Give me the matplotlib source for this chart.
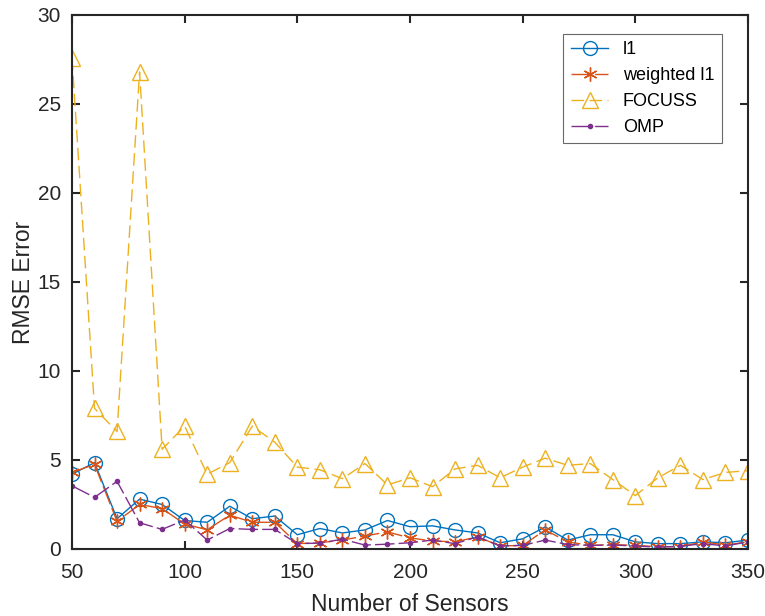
import matplotlib.pyplot as plt

plt.rcParams['font.family'] = ['Liberation Sans', 'DejaVu Sans']

# Data
sensors = list(range(50, 351, 10))

l1 = [4.2, 4.85, 1.7, 2.8, 2.5, 1.6, 1.5, 2.4, 1.7, 1.85,
      0.8, 1.15, 0.9, 1.07, 1.6, 1.25, 1.3, 1.07, 0.9, 0.35,
      0.57, 1.24, 0.5, 0.8, 0.8, 0.4, 0.3, 0.3, 0.4, 0.35, 0.5]

weighted_l1 = [4.3, 4.75, 1.55, 2.5, 2.27, 1.4, 1.08, 1.9, 1.5, 1.5,
               0.3, 0.35, 0.5, 0.73, 0.96, 0.62, 0.45, 0.4, 0.68, 0.17,
               0.2, 1.07, 0.4, 0.2, 0.25, 0.2, 0.13, 0.13, 0.4, 0.22, 0.4]

focuss = [27.6, 7.9, 6.6, 26.8, 5.6, 6.9, 4.2, 4.85, 6.9, 6.0,
          4.6, 4.45, 3.95, 4.8, 3.6, 4.0, 3.5, 4.5, 4.7, 4.0,
          4.6, 5.1, 4.7, 4.8, 3.9, 3.0, 4.0, 4.7, 3.9, 4.3, 4.4]

omp = [3.55, 2.9, 3.8, 1.47, 1.1, 1.63, 0.5, 1.15, 1.1, 1.1,
       0.3, 0.33, 0.55, 0.22, 0.27, 0.35, 0.5, 0.3, 0.68, 0.17,
       0.2, 0.5, 0.25, 0.2, 0.22, 0.17, 0.1, 0.15, 0.3, 0.17, 0.4]

fig = plt.figure(figsize=(7.65, 6.16), dpi=100)
ax = fig.add_axes([0.0941, 0.1088, 0.8837, 0.8669])

ax.plot(sensors, l1, color='#0072BD', lw=1, marker='o', ms=10,
        mfc='none', label='l1')
ax.plot(sensors, weighted_l1, color='#D95319', lw=1, ls=(0, (14, 3)),
        marker=(6, 2, 0), ms=10, label='weighted l1')
ax.plot(sensors, focuss, color='#EDB120', lw=1, ls=(0, (9, 4)),
        marker='^', ms=12, mfc='none', label='FOCUSS')
ax.plot(sensors, omp, color='#7E2F8E', lw=1, ls=(0, (14, 3)),
        marker='.', ms=6, label='OMP')

ax.set_xlim(50, 350)
ax.set_ylim(0, 30)
ax.set_xticks([50, 100, 150, 200, 250, 300, 350])
ax.set_yticks([0, 5, 10, 15, 20, 25, 30])
ax.tick_params(direction='in', labelsize=15, length=6, width=1.5, top=True, right=True,
               colors='#262626')
ax.tick_params(axis='x', pad=10)
ax.tick_params(axis='y', pad=8)
for s in ax.spines.values():
    s.set_linewidth(1.5)
    s.set_color('#262626')

ax.set_xlabel('Number of Sensors', fontsize=16.5, color='#262626', labelpad=8)
ax.set_ylabel('RMSE Error', fontsize=16.5, color='#262626', labelpad=2)

leg = ax.legend(loc='upper right', bbox_to_anchor=(0.969, 0.975), fontsize=13,
                fancybox=False, edgecolor='#444444', handlelength=2.1,
                labelspacing=0.5, borderaxespad=0.3)
leg.get_frame().set_linewidth(0.8)

fig.savefig('out.png', dpi=100)
